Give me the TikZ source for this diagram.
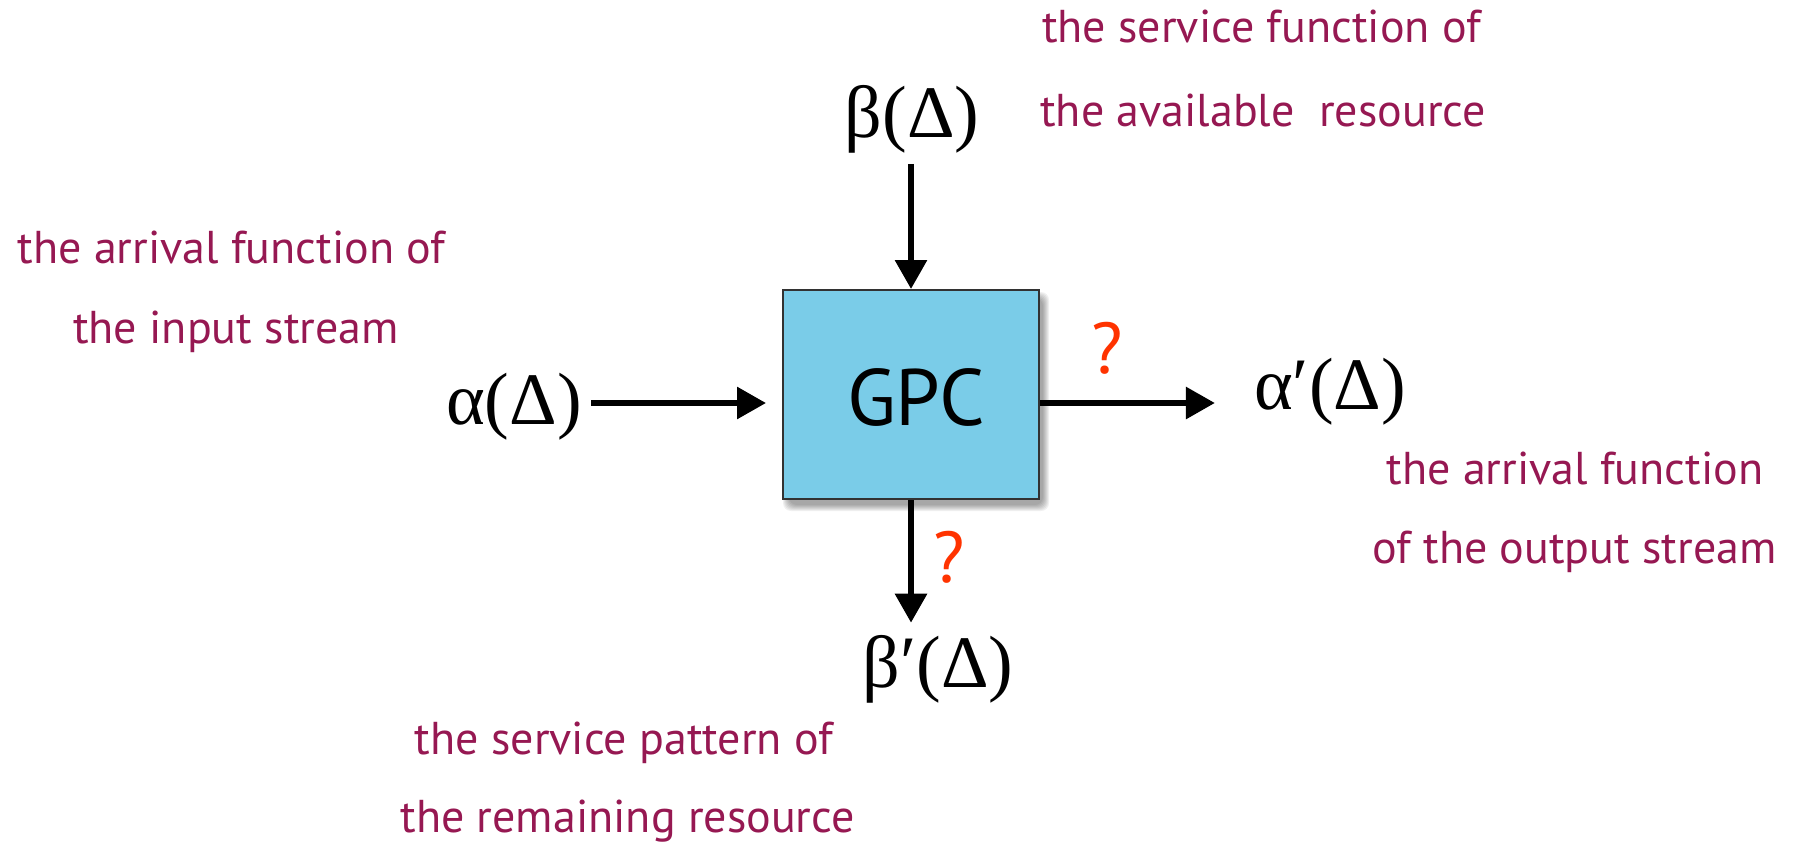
\documentclass[tikz,border=0pt]{standalone}
\usepackage{fontspec}
\setmainfont{Liberation Serif}
\newfontfamily\labfont{PT Sans}
\usetikzlibrary{arrows.meta}
\definecolor{labcol}{RGB}{150,24,82}
\definecolor{qred}{RGB}{255,51,0}
\definecolor{boxfill}{RGB}{122,204,232}
\definecolor{boxline}{RGB}{50,50,50}
\tikzset{
  lab/.style={font=\labfont\fontsize{46}{46}\selectfont, text=labcol, inner sep=0pt, anchor=base},
  mathlab/.style={font=\fontsize{74}{74}\selectfont, inner sep=0pt, anchor=base},
  qmark/.style={font=\labfont\fontsize{72}{72}\selectfont, text=qred, inner sep=0pt, anchor=base},
  arr/.style={line width=6pt, -{Triangle[length=29pt,width=31pt]}},
  gpcbox/.style={draw=boxline, line width=2pt, fill=boxfill, minimum width=256pt, minimum height=209pt, inner sep=0pt}
}
\begin{document}
\begin{tikzpicture}[x=1pt,y=-1pt]
\useasboundingbox (0,0) rectangle (1801,843);
% soft shadow
\foreach \k in {-2,0,...,10}{
  \fill[black, opacity=0.06, rounded corners=8pt]
    (911+5-128-\k/2, 394.5+7-104.5-\k/2) rectangle (911+5+128+\k/2, 394.5+7+104.5+\k/2);
}
\node[gpcbox] (box) at (911,394.5) {};
\node[font=\labfont\fontsize{80}{80}\selectfont, inner sep=0pt, anchor=base] (gpc) at (916,425) {GPC};
\coordinate (mid) at (911,403);

\node[mathlab] (a) at (514,424) {α(Δ)};
\node[mathlab] (b) at (912,137) {β(Δ)};
\node[mathlab] (ap) at (1330,409) {α′(Δ)};
\node[mathlab] (bp) at (938,687) {β′(Δ)};

\draw[arr, shorten <=9pt, shorten >=16pt] (a.east |- mid) -- (box.west |- mid);
\draw[arr, shorten >=39pt] (box.east |- mid) -- (ap.west |- mid);
\draw[arr, shorten <=11pt] (b.south -| box.north) -- (box.north);
\draw[arr, shorten >=12pt] (box.south) -- (bp.north -| box.south);

\node[qmark] (q1) at (1107.5,373) {?};
\node[qmark] (q2) at (949,582) {?};

\node[lab] (t1) at (1261.5,43) {the service function of};
\node[lab] (t2) at (1263,126) {the available\ \ resource};
\node[lab] (t3) at (231.5,263) {the arrival function of};
\node[lab] (t4) at (236,343) {the input stream};
\node[lab] (t5) at (1575,484) {the arrival function};
\node[lab] (t6) at (1574.5,563) {of the output stream};
\node[lab] (t7) at (624,754) {the service pattern of};
\node[lab] (t8) at (627.5,832) {the remaining resource};
\end{tikzpicture}
\end{document}
